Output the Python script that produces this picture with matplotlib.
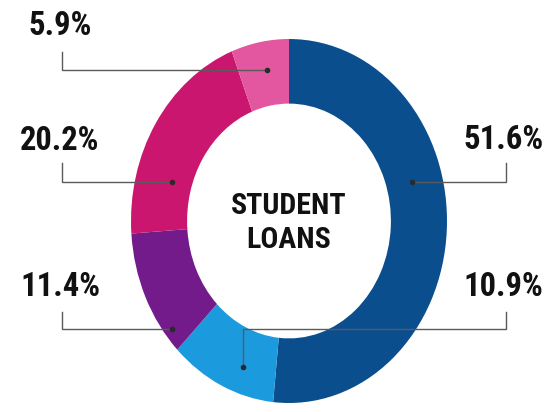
import matplotlib
matplotlib.use("Agg")
import matplotlib.pyplot as plt
import numpy as np

# slices, clockwise from 12 o'clock
shares = [51.6, 10.9, 11.4, 20.2, 5.9]
labels = ["51.6%", "10.9%", "11.4%", "20.2%", "5.9%"]
colors = ["#0b4e8e", "#1b9ade", "#731b8b", "#ca166f", "#e2579f"]
center_text = "STUDENT\nLOANS"

# layout (data units: x radius = 1, y radius = 1)
label_xy = [(1.36, 0.445), (1.355, -0.363), (-1.449, -0.363), (-1.449, 0.44), (-1.449, 1.071)]
tick_x = [1.373, 1.373, -1.437, -1.437, -1.437]
tick_top = [0.319, -0.50, -0.50, 0.319, 0.929]
line_y = [0.214, -0.593, -0.593, 0.214, 0.830]
dot_x = [0.778, -0.291, -0.741, -0.741, -0.139]
dot_y = [0.214, -0.802, -0.593, 0.214, 0.830]

FONT = ["Roboto Condensed", "Liberation Sans Narrow", "DejaVu Sans Condensed",
        "Open Sans Condensed", "Liberation Sans"]

fig = plt.figure(figsize=(5.6, 4.12), dpi=100)
ax = fig.add_axes([0, 0, 1, 1])
ax.pie(
    shares,
    colors=colors,
    startangle=90,
    counterclock=False,
    radius=1.0,
    wedgeprops=dict(width=0.355, linewidth=0),
)
ax.set_aspect("auto")
# ring is stretched vertically in the original
ax.set_xlim(-289 / 158, (560 - 289) / 158)
ax.set_ylim(-191 / 182, 221 / 182)
ax.axis("off")

ax.text(0, -0.01, center_text, ha="center", va="center", fontsize=21.5,
        fontweight="bold", family=FONT, linespacing=1.3, color="#111111")

for i, lab in enumerate(labels):
    lx, ly = label_xy[i]
    ax.text(lx, ly, lab, ha="center", va="center", fontsize=23.5,
            fontweight="bold", family=FONT, color="#111111")
    xs = [tick_x[i], tick_x[i], dot_x[i]]
    ys = [tick_top[i], line_y[i], line_y[i]]
    if dot_y[i] != line_y[i]:
        xs.append(dot_x[i])
        ys.append(dot_y[i])
    ax.plot(xs, ys, color="#5a5a5a", lw=1.0, solid_joinstyle="miter")
    ax.plot([dot_x[i]], [dot_y[i]], "o", ms=3, color="#2a2a2a")

fig.savefig("out.png", dpi=100)
